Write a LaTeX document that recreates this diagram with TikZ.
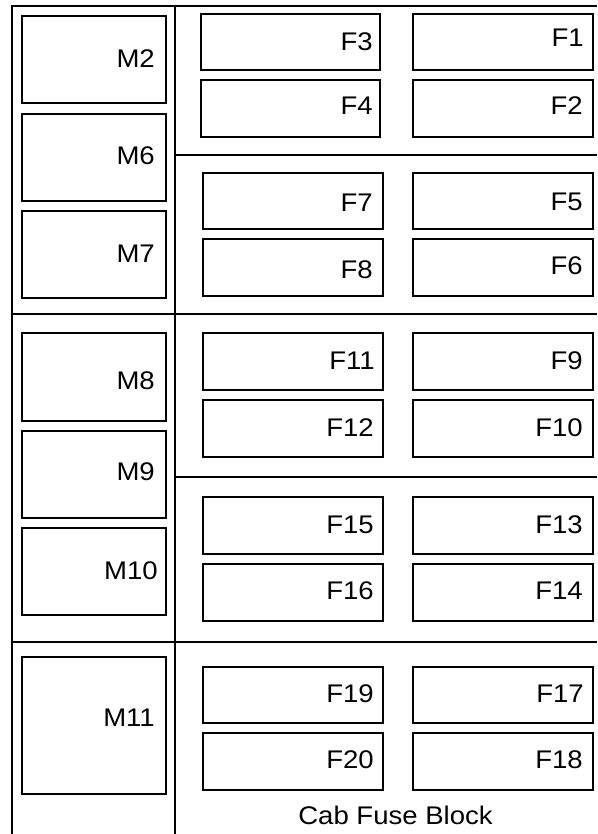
\documentclass[tikz,border=0pt]{standalone}
\usepackage{fontspec}
\setmainfont{Liberation Sans}[FakeStretch=1.08]
\begin{document}
\begin{tikzpicture}[x=1pt,y=-1pt,
  frameline/.style={line width=2pt},
  mbox/.style={draw,line width=2pt,inner sep=0pt,minimum width=144pt},
  fboxl/.style={draw,line width=2pt,inner sep=0pt,minimum width=180pt},
  fboxr/.style={draw,line width=2pt,inner sep=0pt,minimum width=180pt},
  lbl/.style={inner sep=0pt,anchor=east,font=\fontsize{25.5}{30}\selectfont}]
\useasboundingbox (0,0) rectangle (597,834);
% frame
\draw[frameline] (597,6) -- (12,6) -- (12,834);
\draw[frameline] (175,6) -- (175,834);
\draw[frameline] (12,313.5) -- (597,313.5);
\draw[frameline] (12,641.5) -- (597,641.5);
\draw[frameline] (175,155) -- (597,155);
\draw[frameline] (175,477) -- (597,477);
% M boxes
\node[mbox,minimum height=87pt] (M2) at (94,59.5) {};
\node[mbox,minimum height=87pt] (M6) at (94,157.5) {};
\node[mbox,minimum height=87pt] (M7) at (94,254.5) {};
\node[mbox,minimum height=88pt] (M8) at (94,377) {};
\node[mbox,minimum height=87pt] (M9) at (94,474.5) {};
\node[mbox,minimum height=87pt] (M10) at (94,571.5) {};
\node[mbox,minimum height=137pt] (M11) at (94,725.5) {};
\node[lbl] (tM2) at (155,59) {M2};
\node[lbl] (tM6) at (155,156) {M6};
\node[lbl] (tM7) at (155,254) {M7};
\node[lbl] (tM8) at (155,381) {M8};
\node[lbl] (tM9) at (155,472) {M9};
\node[lbl] (tM10) at (158,571) {M10};
\node[lbl] (tM11) at (155,718) {M11};
% F boxes left column
\node[fboxl,minimum width=179pt,minimum height=56pt] (F3) at (290.5,42) {};
\node[fboxl,minimum width=179pt,minimum height=57pt] (F4) at (290.5,108.5) {};
\node[fboxl,minimum height=56pt] (F7) at (293,201) {};
\node[fboxl,minimum height=57pt] (F8) at (293,267.5) {};
\node[fboxl,minimum height=57pt] (F11) at (293,361.5) {};
\node[fboxl,minimum height=57pt] (F12) at (293,428.5) {};
\node[fboxl,minimum height=57pt] (F15) at (293,525.5) {};
\node[fboxl,minimum height=57pt] (F16) at (293,592.5) {};
\node[fboxl,minimum height=56pt] (F19) at (293,695) {};
\node[fboxl,minimum height=57pt] (F20) at (293,761.5) {};
% F boxes right column
\node[fboxr,minimum height=56pt] (F1) at (503,42) {};
\node[fboxr,minimum height=57pt] (F2) at (503,108.5) {};
\node[fboxr,minimum height=56pt] (F5) at (503,201) {};
\node[fboxr,minimum height=57pt] (F6) at (503,267.5) {};
\node[fboxr,minimum height=57pt] (F9) at (503,361.5) {};
\node[fboxr,minimum height=57pt] (F10) at (503,428.5) {};
\node[fboxr,minimum height=57pt] (F13) at (503,525.5) {};
\node[fboxr,minimum height=57pt] (F14) at (503,592.5) {};
\node[fboxr,minimum height=56pt] (F17) at (503,695) {};
\node[fboxr,minimum height=57pt] (F18) at (503,761.5) {};
% labels left column
\node[lbl] (tF3) at (373,42) {F3};
\node[lbl] (tF4) at (373,105.5) {F4};
\node[lbl] (tF7) at (373,202.5) {F7};
\node[lbl] (tF8) at (373,270) {F8};
\node[lbl] (tF11) at (375,361) {F11};
\node[lbl] (tF12) at (374,427.5) {F12};
\node[lbl] (tF15) at (374,525) {F15};
\node[lbl] (tF16) at (374,591) {F16};
\node[lbl] (tF19) at (374,694) {F19};
\node[lbl] (tF20) at (374,759.5) {F20};
% labels right column
\node[lbl] (tF1) at (584,38) {F1};
\node[lbl] (tF2) at (583,105.5) {F2};
\node[lbl] (tF5) at (583,202) {F5};
\node[lbl] (tF6) at (583,265.5) {F6};
\node[lbl] (tF9) at (583,361) {F9};
\node[lbl] (tF10) at (583,427.5) {F10};
\node[lbl] (tF13) at (583,525) {F13};
\node[lbl] (tF14) at (583,591) {F14};
\node[lbl] (tF17) at (584,694) {F17};
\node[lbl] (tF18) at (583,759.5) {F18};
% caption
\node[lbl,anchor=center] (cap) at (395.5,815) {Cab Fuse Block};
\end{tikzpicture}
\end{document}
